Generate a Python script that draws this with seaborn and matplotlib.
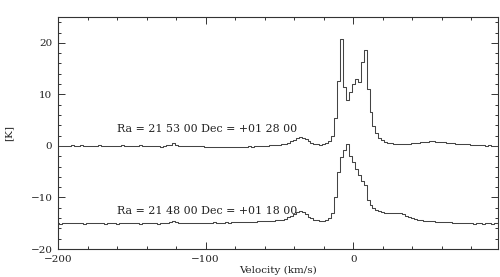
import numpy as np
import pandas as pd
import matplotlib
matplotlib.use("Agg")
import matplotlib.pyplot as plt
import matplotlib.ticker as mtick
import seaborn as sns

# Channel velocities (km/s), 2 km/s spacing
velocity = np.arange(-200, 100, 2)

# Spectrum at Ra = 21 53 00 Dec = +01 28 00 (K)
top_spectrum = [
    0.0, 0.05, 0.0, -0.05, 0.05, 0.1, 0.0, 0.05, 0.15, 0.05,
    0.0, -0.05, 0.05, 0.0, 0.1, 0.05, -0.05, 0.0, 0.05, 0.0,
    -0.05, 0.0, 0.1, 0.05, 0.0, -0.05, 0.0, 0.05, 0.1, 0.05,
    0.0, -0.05, 0.05, 0.0, -0.1, -0.2, -0.1, 0.1, 0.2, 0.6,
    0.1, 0.0, -0.05, 0.0, 0.05, 0.0, -0.05, -0.1, -0.05, -0.1,
    -0.15, -0.2, -0.15, -0.2, -0.25, -0.2, -0.25, -0.2, -0.3, -0.25,
    -0.2, -0.25, -0.2, -0.15, -0.2, -0.1, -0.15, -0.05, -0.1, 0.0,
    0.0, 0.05, 0.1, 0.1, 0.15, 0.2, 0.3, 0.45, 0.65, 0.9,
    1.2, 1.5, 1.7, 1.6, 1.3, 0.9, 0.6, 0.4, 0.3, 0.25,
    0.35, 0.6, 1.0, 2.0, 5.5, 12.5, 20.7, 11.5, 8.9, 10.5,
    12.0, 13.0, 12.4, 16.2, 18.6, 11.0, 6.5, 3.9, 2.5, 1.6,
    1.1, 0.8, 0.6, 0.5, 0.45, 0.4, 0.35, 0.4, 0.4, 0.45,
    0.5, 0.55, 0.6, 0.7, 0.75, 0.85, 0.9, 0.9, 0.85, 0.8,
    0.75, 0.7, 0.6, 0.55, 0.5, 0.45, 0.4, 0.35, 0.3, 0.3,
    0.25, 0.2, 0.15, 0.2, 0.1, 0.05, 0.1, 0.0, 0.0, -0.05,
]

# Spectrum at Ra = 21 48 00 Dec = +01 18 00 (K), drawn shifted down
low_spectrum = [
    0.0, -0.05, 0.0, 0.05, 0.0, 0.05, 0.1, 0.05, 0.0, -0.05,
    0.0, 0.05, 0.0, 0.1, 0.05, 0.0, -0.05, 0.0, 0.05, 0.0,
    -0.05, 0.0, 0.05, 0.1, 0.05, 0.0, 0.05, 0.0, -0.05, 0.0,
    0.05, 0.0, 0.05, 0.0, -0.05, 0.0, 0.05, 0.1, 0.2, 0.45,
    0.15, 0.05, 0.0, 0.05, 0.0, 0.05, 0.1, 0.05, 0.1, 0.05,
    0.1, 0.05, 0.1, 0.15, 0.1, 0.05, 0.1, 0.15, 0.1, 0.15,
    0.2, 0.15, 0.2, 0.25, 0.2, 0.25, 0.3, 0.3, 0.35, 0.4,
    0.4, 0.45, 0.5, 0.5, 0.55, 0.6, 0.7, 0.9, 1.2, 1.5,
    1.8, 2.1, 2.3, 2.1, 1.7, 1.3, 1.0, 0.7, 0.55, 0.5,
    0.5, 0.55, 1.1, 2.0, 5.0, 10.0, 12.8, 14.2, 15.3, 13.0,
    11.8, 10.6, 9.3, 8.2, 7.4, 4.5, 3.5, 2.9, 2.5, 2.3,
    2.1, 2.0, 1.9, 1.9, 1.95, 2.0, 1.9, 1.7, 1.45, 1.2,
    1.0, 0.85, 0.7, 0.6, 0.5, 0.45, 0.4, 0.35, 0.3, 0.25,
    0.25, 0.2, 0.2, 0.15, 0.1, 0.1, 0.05, 0.0, 0.05, 0.0,
    0.0, -0.05, 0.0, 0.0, -0.05, 0.0, 0.0, -0.05, 0.0, 0.0,
]

labels = ["Ra = 21 53 00 Dec = +01 28 00", "Ra = 21 48 00 Dec = +01 18 00"]
offsets = [0, -15]

sns.set_style("ticks")
plt.rcParams["font.family"] = ["DejaVu Serif"]
plt.rcParams["axes.unicode_minus"] = True

line_color = "#444444"

fig = plt.figure(figsize=(5.0, 2.77), dpi=100)
ax = fig.add_axes([0.116, 0.101, 0.88, 0.8375])

for spec, off in zip([top_spectrum, low_spectrum], offsets):
    df = pd.DataFrame({"v": velocity, "T": np.array(spec) + off})
    sns.lineplot(data=df, x="v", y="T", ax=ax, color=line_color,
                 linewidth=0.75, drawstyle="steps-mid", estimator=None)

# Position labels
ax.text(-160, 3.3, labels[0], fontsize=7.9, color="#222222", va="center", ha="left")
ax.text(-160, -12.6, labels[1], fontsize=7.9, color="#222222", va="center", ha="left")

ax.set_xlim(-200, 98)
ax.set_ylim(-20, 25)
ax.xaxis.set_major_locator(mtick.MultipleLocator(100))
ax.xaxis.set_minor_locator(mtick.MultipleLocator(20))
ax.yaxis.set_major_locator(mtick.MultipleLocator(10))
ax.yaxis.set_minor_locator(mtick.MultipleLocator(2))
ax.tick_params(which="both", direction="in", top=True, right=True,
               color="#333333", labelsize=7.5, labelcolor="#222222", pad=4)
ax.tick_params(which="major", length=5, width=0.7)
ax.tick_params(which="minor", length=2.5, width=0.7)
for s in ax.spines.values():
    s.set_color("#333333")
    s.set_linewidth(0.8)

ax.set_xlabel("Velocity (km/s)", fontsize=7.5, color="#222222", labelpad=2)
ax.set_ylabel("[K]", fontsize=7.5, color="#222222", labelpad=12)

fig.savefig("out.png", dpi=100)
